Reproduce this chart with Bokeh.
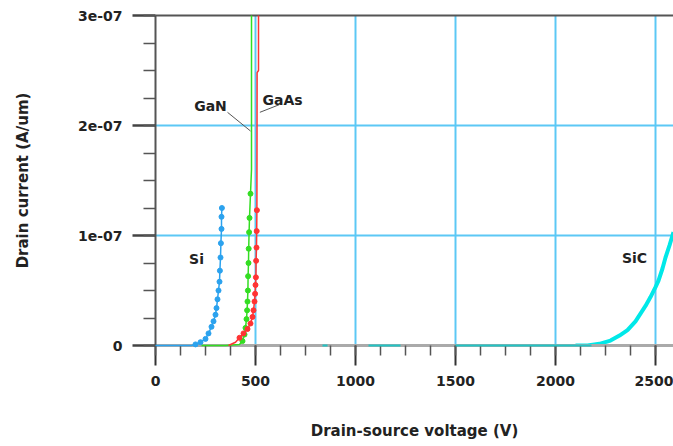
from bokeh.plotting import figure
from bokeh.models import Range1d, FixedTicker, LinearAxis
from bokeh.core.properties import value
from bokeh.embed import file_html
from bokeh.resources import INLINE
import numpy as np

nan = float("nan")

# ---- data ----
x_ticks = [0, 500, 1000, 1500, 2000, 2500]
y_ticks = [0, 1e-7, 2e-7, 3e-7]
y_tick_labels = ["0", "1e-07", "2e-07", "3e-07"]

si_v = [0, 100, 180, 200, 225, 250, 265, 280, 290, 300, 305, 310, 315, 320, 322, 325, 327, 330, 330, 332]
si_i = [0, 0, 0, 1e-9, 3e-9, 6e-9, 1.1e-8, 1.7e-8, 2.2e-8, 2.8e-8, 3.4e-8, 4.2e-8, 5.0e-8,
        5.8e-8, 6.8e-8, 8.0e-8, 9.3e-8, 1.06e-7, 1.17e-7, 1.25e-7]

gan_v = [230, 350, 420, 435, 445, 450, 455, 458, 460, 462, 463, 465, 466, 468, 470]
gan_i = [0, 0, 1e-9, 4e-9, 1e-8, 1.6e-8, 2.4e-8, 3.2e-8, 4.0e-8, 5.0e-8, 6.3e-8, 7.5e-8,
         8.8e-8, 1.03e-7, 1.16e-7]
gan_top_v = [470, 475, 480, 480]
gan_top_i = [1.16e-7, 1.38e-7, 1.6e-7, 3.0e-7]

gaas_v = [365, 400, 420, 440, 460, 475, 485, 490, 495, 498, 500, 502, 503, 505, 506]
gaas_i = [0, 3e-9, 7e-9, 1.1e-8, 1.5e-8, 2.0e-8, 2.6e-8, 3.2e-8, 4.0e-8, 4.7e-8, 5.5e-8,
          6.2e-8, 7.7e-8, 8.9e-8, 1.04e-7]
gaas_top_v = [506, 507, 508, 515, 515]
gaas_top_i = [1.04e-7, 1.23e-7, 2.48e-7, 2.5e-7, 3.0e-7]

sic_base_v = [835, 860, nan, 1065, 1225, nan, 1500, 2180]
sic_base_i = [0, 0, nan, 0, 0, nan, 0, 0]
sic_v = [2100, 2160, 2220, 2275, 2320, 2360, 2400, 2425, 2450, 2475, 2500, 2515, 2535, 2550, 2570, 2590]
sic_i = [0, 0, 1.5e-9, 4.5e-9, 9e-9, 1.4e-8, 2.2e-8, 2.9e-8, 3.6e-8, 4.4e-8, 5.3e-8, 5.9e-8,
         7.0e-8, 8.0e-8, 9.1e-8, 1.03e-7]

label_text = ["Si", "SiC", "GaN", "GaAs"]
label_x = [205, 2395, 275, 635]
label_y = [7.9e-8, 8.0e-8, 2.18e-7, 2.23e-7]

leader_xs = [[360, 475], [522, 620]]
leader_ys = [[2.12e-7, 1.95e-7], [2.12e-7, 2.19e-7]]

# ---- styles ----
SI_C = "#2ba2ee"
GAN_C = "#33dd22"
GAAS_C = "#ff3333"
SIC_C = "#00e8e8"
SIC_BASE_C = "#22c4c4"
GRID_C = "#5cc8f5"
FONT = "DejaVu Sans"

p = figure(width=673, height=446, output_backend="svg", toolbar_location=None,
           x_range=Range1d(0, 2590), y_range=Range1d(0, 3e-7),
           min_border_left=155, min_border_top=15, min_border_bottom=101, min_border_right=0,
           background_fill_color="white", border_fill_color="white")
p.outline_line_color = None

# grid
p.xgrid.ticker = FixedTicker(ticks=x_ticks[1:])
p.ygrid.ticker = FixedTicker(ticks=y_ticks[1:3])
p.xgrid.grid_line_color = GRID_C
p.ygrid.grid_line_color = GRID_C
p.xgrid.grid_line_width = 2
p.ygrid.grid_line_width = 2

# x axis
xa = p.xaxis[0]
xa.ticker = FixedTicker(ticks=x_ticks, minor_ticks=list(np.arange(0, 2600, 125)))
xa.axis_line_color = "#aaaaaa"
xa.axis_line_width = 3
xa.major_tick_in = 0
xa.major_tick_out = 20
xa.minor_tick_in = 0
xa.minor_tick_out = 10
xa.major_tick_line_color = "#333333"
xa.major_tick_line_width = 2
xa.minor_tick_line_color = "#555555"
xa.minor_tick_line_width = 1.5
xa.major_label_text_font = FONT
xa.major_label_text_font_style = "bold"
xa.major_label_text_font_size = "14px"
xa.major_label_text_color = "#222222"
xa.major_label_standoff = 10
xa.axis_label = "Drain-source voltage (V)"
xa.axis_label_text_font = FONT
xa.axis_label_text_font_style = "bold"
xa.axis_label_text_font_size = "15px"
xa.axis_label_text_color = "#222222"
xa.axis_label_standoff = 33

# y axis
ya = p.yaxis[0]
ya.ticker = FixedTicker(ticks=y_ticks, minor_ticks=list(np.arange(0, 3.01e-7, 2.5e-8)))
ya.major_label_overrides = {t: l for t, l in zip(y_ticks, y_tick_labels)}
ya.axis_line_color = "#555555"
ya.axis_line_width = 2
ya.major_tick_in = 0
ya.major_tick_out = 23
ya.minor_tick_in = 0
ya.minor_tick_out = 12
ya.major_tick_line_color = "#444444"
ya.major_tick_line_width = 2.5
ya.minor_tick_line_color = "#555555"
ya.minor_tick_line_width = 1.5
ya.major_label_text_font = FONT
ya.major_label_text_font_style = "bold"
ya.major_label_text_font_size = "14px"
ya.major_label_text_color = "#222222"
ya.major_label_standoff = 10
ya.axis_label = "Drain current (A/um)"
ya.axis_label_text_font = FONT
ya.axis_label_text_font_style = "bold"
ya.axis_label_text_font_size = "15px"
ya.axis_label_text_color = "#222222"
ya.axis_label_standoff = 43

# top frame line
top = LinearAxis(ticker=FixedTicker(ticks=[]), major_label_text_font_size="0px",
                 major_tick_out=0, minor_tick_out=0, major_tick_in=0, minor_tick_in=0,
                 axis_line_color="#555555", axis_line_width=2)
p.add_layout(top, "above")

# data (drawn above the axis line so the zero-current traces show on it)
lv = "overlay"
p.line(sic_base_v, sic_base_i, line_color=SIC_BASE_C, line_width=2, level=lv)
p.line(sic_v, sic_i, line_color=SIC_C, line_width=4)
p.line(si_v, si_i, line_color=SI_C, line_width=1.5, level=lv)
p.scatter(si_v[3:], si_i[3:], color=SI_C, size=5, level=lv)
p.line(gan_v, gan_i, line_color=GAN_C, line_width=1.5, level=lv)
p.line(gan_top_v, gan_top_i, line_color=GAN_C, line_width=1.5, level=lv)
p.scatter(gan_v[3:] + gan_top_v[1:2], gan_i[3:] + gan_top_i[1:2], color=GAN_C, size=5, level=lv)
p.line(gaas_v, gaas_i, line_color=GAAS_C, line_width=1.5, level=lv)
p.line(gaas_top_v, gaas_top_i, line_color=GAAS_C, line_width=1.5, level=lv)
p.scatter(gaas_v[2:] + gaas_top_v[1:2], gaas_i[2:] + gaas_top_i[1:2], color=GAAS_C, size=5, level=lv)

# labels
p.multi_line(leader_xs, leader_ys, line_color="#555555", line_width=1)
p.text(label_x, label_y, text=label_text, text_font=value(FONT), text_font_style="bold",
       text_font_size="14px", text_color="#222222", text_align="center", text_baseline="middle")

open("out.html", "w").write(file_html(p, INLINE))
